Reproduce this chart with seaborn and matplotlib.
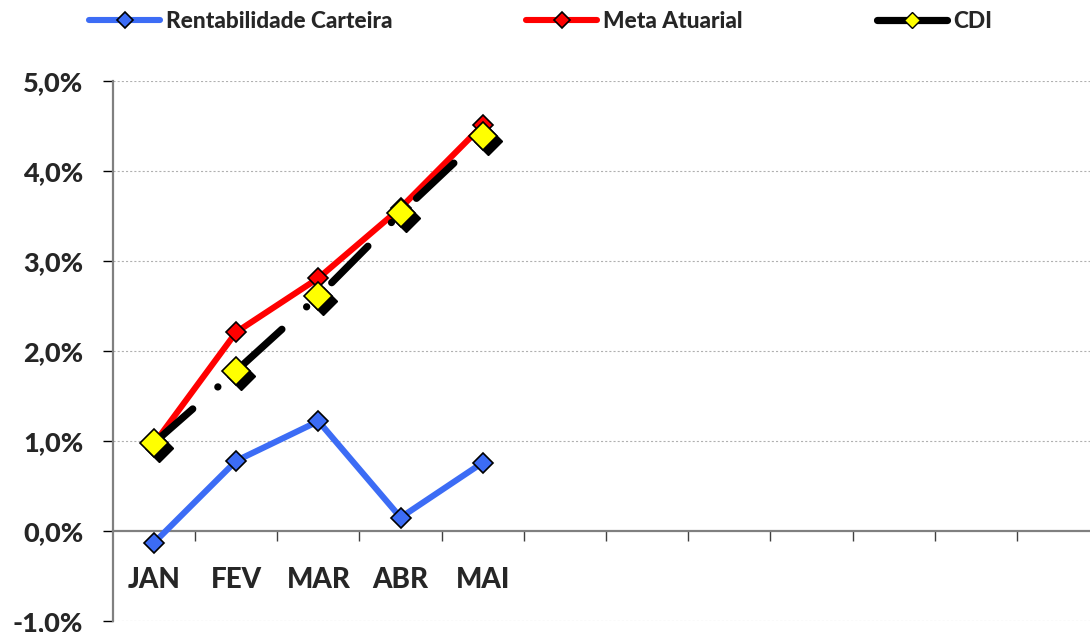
import numpy as np
import pandas as pd
import matplotlib
matplotlib.use("Agg")
import matplotlib.pyplot as plt
import seaborn as sns
from matplotlib.lines import Line2D
from matplotlib import transforms
from matplotlib.ticker import FixedLocator, FuncFormatter

# ---- data ----
months = ["JAN", "FEV", "MAR", "ABR", "MAI"]
rentabilidade = [-0.13, 0.78, 1.22, 0.15, 0.76]
meta_atuarial = [0.97, 2.21, 2.81, 3.59, 4.51]
cdi = [0.98, 1.78, 2.61, 3.53, 4.39]
y_ticks = [-1, 0, 1, 2, 3, 4, 5]
series_names = ["Rentabilidade Carteira", "Meta Atuarial", "CDI"]
n_slots = 12

sns.set_theme(style="white")
plt.rcParams['font.family'] = ['Lato', 'DejaVu Sans']
plt.rcParams['lines.scale_dashes'] = False
WEIGHT = "black"

W, H = 1090, 632
fig = plt.figure(figsize=(W / 100, H / 100), dpi=100)
ax = fig.add_axes([113 / W, 11 / H, 986 / W, 540 / H])

df = pd.DataFrame({"pos": np.arange(len(months)), "mes": months,
                   series_names[0]: rentabilidade,
                   series_names[1]: meta_atuarial,
                   series_names[2]: cdi})

blue = "#3C6CF5"
red = "#FF0000"

sns.lineplot(data=df, x="pos", y=series_names[0], ax=ax, color=blue, lw=4.4,
             marker="D", markersize=10.5, markerfacecolor=blue,
             markeredgecolor="black", markeredgewidth=1.2, zorder=3)
sns.lineplot(data=df, x="pos", y=series_names[1], ax=ax, color=red, lw=4.4,
             marker="D", markersize=10.5, markerfacecolor=red,
             markeredgecolor="black", markeredgewidth=1.2, zorder=4)

# shadow of CDI markers
shadow = transforms.offset_copy(ax.transData, fig=fig, x=5, y=-5, units='dots')
ax.plot(df["pos"], df[series_names[2]], linestyle="none", marker="D",
        markersize=14, color="black", transform=shadow, zorder=5)
sns.lineplot(data=df, x="pos", y=series_names[2], ax=ax, color="black", lw=5.2,
             linestyle=(0, (37, 24, 0.1, 25)), dash_capstyle="round",
             marker="D", markersize=14, markerfacecolor="#FFFF00",
             markeredgecolor="black", markeredgewidth=1.2, zorder=6)

ax.set_xlim(-0.5, n_slots - 0.5)
ax.set_ylim(y_ticks[0], y_ticks[-1])

# grid
for y in y_ticks:
    if y != 0:
        ax.axhline(y, color="#B0B0B0", lw=0.8, ls=(0, (1.5, 1.5)), zorder=1)

for s in ["top", "right"]:
    ax.spines[s].set_visible(False)
ax.spines["left"].set_color("#808080")
ax.spines["left"].set_linewidth(1.6)
ax.spines["bottom"].set_position(("data", 0))
ax.spines["bottom"].set_color("#808080")
ax.spines["bottom"].set_linewidth(1.6)

ax.set_yticks(y_ticks)
ax.yaxis.set_major_formatter(FuncFormatter(lambda v, p: f"{v:.1f}%".replace(".", ",")))
ax.tick_params(axis="y", direction="out", length=7.5, width=1, color="black",
               pad=14, labelsize=19.5, left=True)
for lab in ax.get_yticklabels():
    lab.set_fontweight(WEIGHT)

ax.set_xticks(df["pos"])
ax.set_xticklabels(months, fontsize=20, fontweight=WEIGHT)
ax.xaxis.set_minor_locator(FixedLocator(np.arange(0.5, n_slots - 0.5, 1.0)))
ax.tick_params(axis="x", which="major", length=0, pad=26, bottom=True)
ax.tick_params(axis="x", which="minor", direction="out", length=7.5, width=1,
               color="#404040", bottom=True)
ax.set_xlabel("")
ax.set_ylabel("")
ax.grid(False)

# legend
handles = [
    Line2D([], [], color=blue, lw=4.4, marker="D", markersize=8,
           markerfacecolor=blue, markeredgecolor="black", markeredgewidth=1.2,
           solid_capstyle="round"),
    Line2D([], [], color=red, lw=4.4, marker="D", markersize=8,
           markerfacecolor=red, markeredgecolor="black", markeredgewidth=1.2,
           solid_capstyle="round"),
    Line2D([], [], color="black", lw=5.2, marker="D", markersize=8,
           markerfacecolor="#FFFF00", markeredgecolor="black", markeredgewidth=1.0,
           solid_capstyle="round"),
]
fig.legend(handles, series_names, loc="center", bbox_to_anchor=(541 / W, 1 - 21 / H),
           ncol=3, frameon=False, prop={"size": 16.3, "weight": WEIGHT},
           handlelength=3.1, handletextpad=0.3, columnspacing=5.9,
           borderaxespad=0, borderpad=0)

fig.savefig("out.png", dpi=100)
